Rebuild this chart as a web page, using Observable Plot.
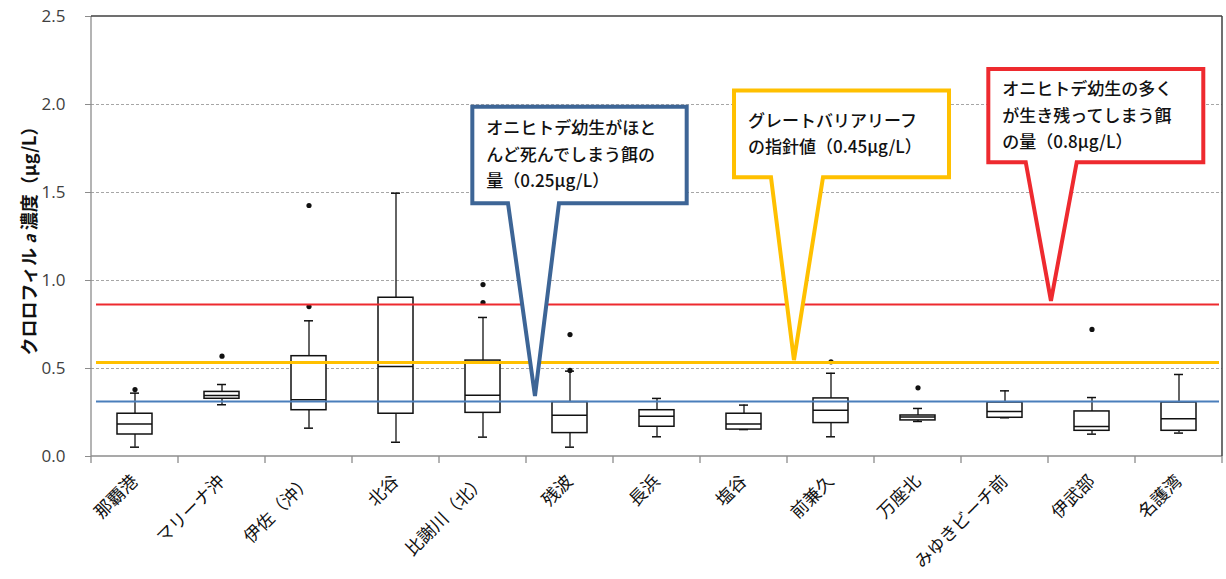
<!DOCTYPE html>
<html>
<head>
<meta charset="utf-8">
<script src="https://cdn.jsdelivr.net/npm/d3@7"></script>
<script src="https://cdn.jsdelivr.net/npm/@observablehq/plot@0.6"></script>
<style>
  html, body { margin: 0; padding: 0; background: #fff; }
  #chart svg { display: block; }
</style>
</head>
<body>
<div id="chart"></div>
<script>
// ---- data ----
const sites = ["那覇港", "マリーナ沖", "伊佐（沖）", "北谷", "比謝川（北）", "残波", "長浜", "塩谷", "前兼久", "万座北", "みゆきビーチ前", "伊武部", "名護湾"];
const whiskerLow  = [0.053, 0.294, 0.161, 0.081, 0.110, 0.053, 0.112, 0.153, 0.112, 0.199, 0.220, 0.127, 0.133];
const quartile1   = [0.125, 0.328, 0.263, 0.243, 0.248, 0.133, 0.169, 0.153, 0.190, 0.205, 0.220, 0.146, 0.146];
const medians     = [0.184, 0.347, 0.322, 0.511, 0.348, 0.235, 0.229, 0.184, 0.263, 0.224, 0.256, 0.170, 0.214];
const quartile3   = [0.243, 0.367, 0.570, 0.902, 0.545, 0.309, 0.263, 0.243, 0.330, 0.233, 0.307, 0.256, 0.307];
const whiskerHigh = [0.360, 0.409, 0.771, 1.496, 0.790, 0.485, 0.330, 0.292, 0.473, 0.273, 0.373, 0.335, 0.466];
const outlierSites  = ["那覇港", "マリーナ沖", "伊佐（沖）", "伊佐（沖）", "比謝川（北）", "比謝川（北）", "残波", "残波", "前兼久", "万座北", "伊武部"];
const outlierValues = [0.380, 0.570, 1.426, 0.852, 0.977, 0.875, 0.693, 0.489, 0.538, 0.390, 0.722];
const thresholdValues = [0.312, 0.534, 0.864];
const calloutTexts = [
  ["オニヒトデ幼生がほと", "んど死んでしまう餌の", "量（0.25µg/L）"],
  ["グレートバリアリーフ", "の指針値（0.45µg/L）"],
  ["オニヒトデ幼生の多く", "が生き残ってしまう餌", "の量（0.8µg/L）"]
];
const calloutTipValues = [0.341, 0.545, 0.881];
const yTicks = [0, 0.5, 1.0, 1.5, 2.0, 2.5];
const yLabel = "クロロフィルa濃度（µg/L）";

// ---- layout / style (not data) ----
const colors = ["#3d6596", "#ffc000", "#ee2a2f"];          // blue, yellow, red
const lineColors = ["#4a7ebb", "#ffc000", "#ee2a2f"];
const lineWidths = [2, 3, 2];
// callout boxes in band units (x) and value units (y)
const calloutLayout = [
  {x0: 4.383, x1: 6.847, top: 1.985, bottom: 1.436, a: 4.793, b: 5.379, tip: 5.103},
  {x0: 7.391, x1: 9.862, top: 2.076, bottom: 1.584, a: 7.816, b: 8.414, tip: 8.080},
  {x0: 10.314, x1: 12.785, top: 2.199, bottom: 1.669, a: 10.744, b: 11.330, tip: 11.034}
];

const rows = sites.map((s, i) => ({site: s, lo: whiskerLow[i], q1: quartile1[i], med: medians[i], q3: quartile3[i], hi: whiskerHigh[i]}));
const outliers = outlierSites.map((s, i) => ({site: s, value: outlierValues[i]}));

const W = 1226, H = 579;
const mL = 91, mR = 4, mT = 16, mB = 123;

function overlay(index, scales, values, dims) {
  const x = scales.x, y = scales.y;
  const bw = x.bandwidth ? x.bandwidth() : (dims.width - dims.marginLeft - dims.marginRight) / sites.length;
  const x0 = x(sites[0]);
  const ux = u => x0 + u * bw;
  const g = d3.create("svg:g");
  const left = ux(0), right = ux(sites.length), top = y(2.5), bottom = y(0);
  // axes / frame
  g.append("line").attr("x1", left).attr("x2", left).attr("y1", top).attr("y2", bottom).attr("stroke", "#8c8c8c").attr("stroke-width", 1.3);
  g.append("line").attr("x1", left).attr("x2", right).attr("y1", bottom).attr("y2", bottom).attr("stroke", "#8c8c8c").attr("stroke-width", 1.3);
  g.append("line").attr("x1", left).attr("x2", right).attr("y1", top).attr("y2", top).attr("stroke", "#404040").attr("stroke-width", 1.5);
  g.append("line").attr("x1", right).attr("x2", right).attr("y1", top).attr("y2", bottom).attr("stroke", "#404040").attr("stroke-width", 1.5);
  for (let k = 0; k <= sites.length; k++) {
    g.append("line").attr("x1", ux(k)).attr("x2", ux(k)).attr("y1", bottom).attr("y2", bottom + 7).attr("stroke", "#8c8c8c").attr("stroke-width", 1.3);
  }
  // callouts
  calloutLayout.forEach((c, i) => {
    const L = ux(c.x0), R = ux(c.x1), T = y(c.top), B = y(c.bottom);
    const a = ux(c.a), b = ux(c.b), tx = ux(c.tip), ty = y(calloutTipValues[i]);
    g.append("path")
      .attr("d", `M${L},${T}H${R}V${B}H${b}L${tx},${ty}L${a},${B}H${L}Z`)
      .attr("fill", "white").attr("stroke", colors[i]).attr("stroke-width", 4).attr("stroke-linejoin", "miter");
    const lines = calloutTexts[i];
    const lh = 26.5;
    const cy = (T + B) / 2 - (lines.length - 1) * lh / 2;
    const t = g.append("text")
      .attr("text-anchor", "start")
      .attr("font-family", "'Noto Sans CJK JP', sans-serif")
      .attr("font-size", 17).attr("font-weight", 500).attr("fill", "#111");
    lines.forEach((ln, j) => {
      t.append("tspan").attr("x", L + 14).attr("y", cy + j * lh).attr("dy", "0.35em").text(ln);
    });
  });
  return g.node();
}

const marks = [
  Plot.ruleY([0.5, 1.0, 1.5, 2.0], {stroke: "#a6a6a6", strokeWidth: 1, strokeDasharray: "3,2"}),
  Plot.ruleX(rows, {x: "site", y1: "lo", y2: "hi", stroke: "#111", strokeWidth: 1.3}),
  Plot.tickY(rows, {x: "site", y: "hi", stroke: "#111", strokeWidth: 1.5, inset: 39}),
  Plot.tickY(rows, {x: "site", y: "lo", stroke: "#111", strokeWidth: 1.5, inset: 39}),
  Plot.barY(rows, {x: "site", y1: "q1", y2: "q3", fill: "white", stroke: "#111", strokeWidth: 1.5, insetLeft: 26, insetRight: 26}),
  Plot.tickY(rows, {x: "site", y: "med", stroke: "#111", strokeWidth: 1.5, inset: 26}),
  Plot.dot(outliers, {x: "site", y: "value", r: 2.6, fill: "#111", stroke: "none"}),
  ...thresholdValues.map((v, i) => Plot.ruleY([v], {stroke: lineColors[i], strokeWidth: lineWidths[i], insetLeft: 5, insetRight: 3})),
  Plot.axisY({ticks: yTicks, tickFormat: d3.format(".1f"), tickSize: 6, tickPadding: 20, fontSize: 17, fill: "#404040", stroke: "#8c8c8c",
    fontFamily: "'Open Sans', sans-serif",
    label: yLabel, labelAnchor: "center", labelOffset: 68, labelArrow: "none"}),
  Plot.axisX({tickSize: 0, tickRotate: -45, tickPadding: 22, fontSize: 17.5, fill: "#111", label: null,
    fontFamily: "'Noto Sans CJK JP', sans-serif"}),
  overlay
];

const chart = Plot.plot({
  width: W, height: H,
  marginLeft: mL, marginRight: mR, marginTop: mT, marginBottom: mB,
  style: {fontFamily: "'Noto Sans CJK JP', sans-serif", background: "white", overflow: "visible"},
  x: {type: "band", domain: sites, padding: 0},
  y: {domain: [0, 2.5]},
  marks
});
document.getElementById("chart").appendChild(chart);

// y-axis label: italic "a", bold-ish
d3.select(chart).selectAll("text").each(function() {
  if (this.textContent === yLabel) {
    const s = d3.select(this);
    s.text(null).attr("font-size", 18).attr("font-weight", 600).attr("fill", "#111")
      .attr("font-family", "'Noto Sans CJK JP', sans-serif");
    s.append("tspan").text("クロロフィル ");
    s.append("tspan").attr("font-style", "italic").attr("font-size", 16).text("a");
    s.append("tspan").text(" 濃度（µg/L）");
  }
});
</script>
</body>
</html>
